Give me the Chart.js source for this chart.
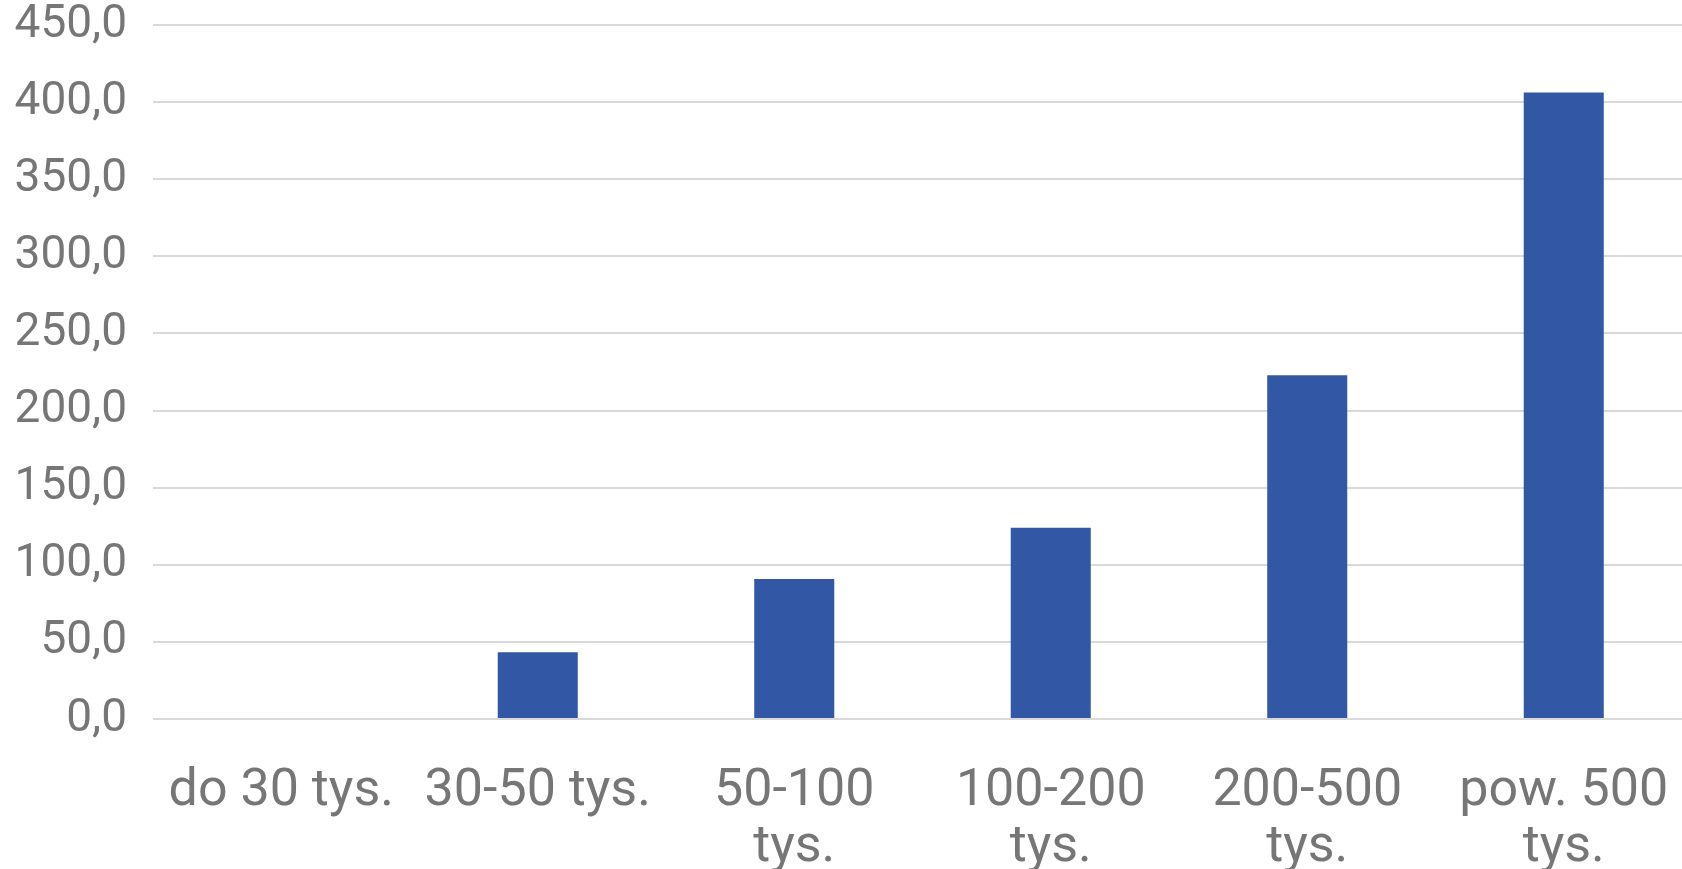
<!DOCTYPE html>
<html>
<head>
<meta charset="utf-8">
<script src="https://cdn.jsdelivr.net/npm/chart.js@4"></script>
<style>
html,body{margin:0;padding:0;background:#fff;overflow:hidden;}
#wrap{width:1682px;height:869px;overflow:hidden;}
</style>
</head>
<body>
<div id="wrap"><canvas id="c" width="1682" height="869"></canvas></div>
<script>
const categories = [
  ["do 30 tys."],
  ["30-50 tys."],
  ["50-100", "tys."],
  ["100-200", "tys."],
  ["200-500", "tys."],
  ["pow. 500", "tys."]
];
const values = [0, 43.3, 90.7, 124.0, 222.9, 406.3];
const yMin = 0, yMax = 450, yStep = 50;

// the reference plot area runs slightly past the right edge of the picture
const overflowRight = {
  id: 'overflowRight',
  afterLayout(chart) {
    const extra = 10;
    const x = chart.scales.x;
    chart.chartArea.right += extra;
    chart.chartArea.width += extra;
    x.right += extra;
    x.width += extra;
    x.configure();
  }
};

new Chart(document.getElementById('c'), {
  type: 'bar',
  data: {
    labels: categories,
    datasets: [{
      data: values,
      backgroundColor: '#3257A5',
      borderWidth: 0,
      categoryPercentage: 1.0,
      barPercentage: 0.312
    }]
  },
  plugins: [overflowRight],
  options: {
    responsive: false,
    animation: false,
    devicePixelRatio: 1,
    layout: { padding: { left: 0, right: 0, top: 25, bottom: 0 } },
    plugins: { legend: { display: false }, tooltip: { enabled: false } },
    scales: {
      x: {
        grid: { display: false, drawTicks: false },
        border: { display: false },
        ticks: {
          color: '#767676',
          font: { family: 'Roboto', size: 52, lineHeight: 1.08 },
          padding: 45,
          maxRotation: 0,
          autoSkip: false
        },
        afterFit: s => { s.height = 150; s.paddingLeft = 0; s.paddingRight = 0; }
      },
      y: {
        min: yMin, max: yMax,
        grid: { color: '#d9d9d9', lineWidth: 2, drawTicks: false },
        border: { display: false },
        ticks: {
          stepSize: yStep,
          color: '#767676',
          font: { family: 'Roboto', size: 46, lineHeight: 1.1 },
          padding: 26,
          callback: v => v.toFixed(1).replace('.', ',')
        },
        afterFit: s => { s.width = 153; s.paddingTop = 0; s.paddingBottom = 0; }
      }
    }
  }
});
</script>
</body>
</html>
